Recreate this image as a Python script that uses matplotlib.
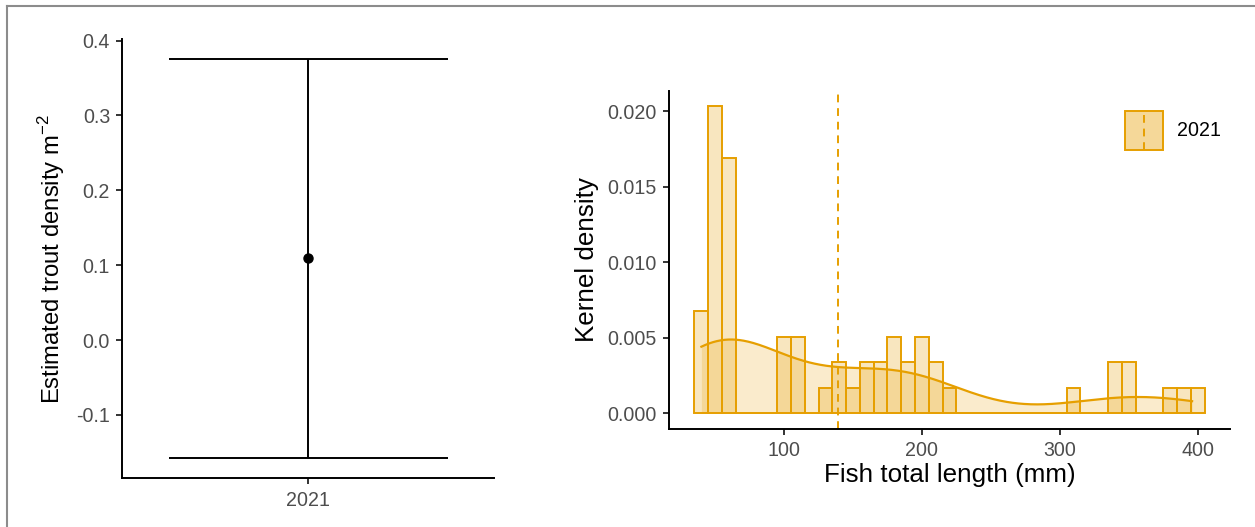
import numpy as np
import matplotlib.pyplot as plt
from matplotlib.colors import to_rgba
from matplotlib.patches import Rectangle, Patch
from matplotlib.lines import Line2D
from matplotlib.legend_handler import HandlerBase
from matplotlib.ticker import FormatStrFormatter

plt.rcParams['font.family'] = ['Liberation Sans', 'DejaVu Sans']
plt.rcParams['mathtext.fontset'] = 'custom'
plt.rcParams['mathtext.rm'] = 'Liberation Sans'
plt.rcParams['axes.unicode_minus'] = False

# Estimated trout density (with 95% interval) per survey year
years = ['2021']
density_est = [0.109]
density_lo = [-0.158]
density_hi = [0.375]

# Total length (mm) of every trout measured in 2021
lengths = [40, 41, 43, 44,
           45, 46, 47, 48, 49, 50, 50, 51, 52, 53, 54, 54,
           55, 56, 57, 58, 59, 60, 61, 62, 63, 64,
           96, 100, 103, 106, 110, 113,
           128, 136, 142, 148, 158, 163, 167, 172,
           176, 180, 184, 188, 193, 196, 200, 204, 207, 212, 218,
           309, 337, 343, 347, 353, 380, 390, 396]
length_bins = np.arange(35, 406, 10)

ORANGE = '#E69F00'
TICK_FS = 14.1
TITLE_FS = 18.7
LW = 1.4


def style_axes(ax):
    for side in ['top', 'right']:
        ax.spines[side].set_visible(False)
    for side in ['left', 'bottom']:
        ax.spines[side].set_linewidth(LW)
        ax.spines[side].set_color('black')
    ax.tick_params(length=4.3, width=LW, color='#333333', labelcolor='#4D4D4D',
                   labelsize=TICK_FS, pad=4.5)


# gaussian kernel density, bandwidth as R's bw.nrd0
def kde_nrd0(data, grid):
    data = np.asarray(data, dtype=float)
    n = len(data)
    q1, q3 = np.percentile(data, [25, 75])
    bw = 0.9 * min(np.std(data, ddof=1), (q3 - q1) / 1.34) * n ** -0.2
    z = (grid[:, None] - data[None, :]) / bw
    return np.exp(-0.5 * z ** 2).sum(axis=1) / (n * bw * np.sqrt(2 * np.pi))


class VlineKey(HandlerBase):
    # legend key: filled box with the dashed mean line through it
    def create_artists(self, legend, orig_handle, xdescent, ydescent,
                       width, height, fontsize, trans):
        box = Rectangle((-xdescent, -ydescent), width, height,
                        facecolor=orig_handle.get_facecolor(),
                        edgecolor=ORANGE, linewidth=LW, transform=trans)
        mid = -xdescent + width / 2
        vl = Line2D([mid, mid], [-ydescent, -ydescent + height], color=ORANGE,
                    lw=LW, ls=(0, (4, 3)), transform=trans)
        return [box, vl]


fig = plt.figure(figsize=(12.55, 5.27), dpi=100)

# thin grey frame along the top and left edges
fig.add_artist(Line2D([6.5 / 1255, 1], [1 - 6 / 527, 1 - 6 / 527], transform=fig.transFigure,
                      color='#8c8c8c', lw=1.5))
fig.add_artist(Line2D([6.5 / 1255, 6.5 / 1255], [0, 1 - 6 / 527], transform=fig.transFigure,
                      color='#8c8c8c', lw=1.5))

# ---- left: density estimate with interval ----
ax1 = fig.add_axes([122.3 / 1255, (527 - 478.3) / 527, (494 - 122.3) / 1255, (478.3 - 39.3) / 527])
xpos = np.arange(1, len(years) + 1)
ax1.vlines(xpos, density_lo, density_hi, color='black', lw=LW)
ax1.hlines(density_lo, xpos - 0.45, xpos + 0.45, color='black', lw=LW)
ax1.hlines(density_hi, xpos - 0.45, xpos + 0.45, color='black', lw=LW)
ax1.plot(xpos, density_est, 'o', color='black', ms=6.5)
ax1.set_xlim(0.4, len(years) + 0.6)
span = max(density_hi) - min(density_lo)
ax1.set_ylim(min(density_lo) - 0.05 * span, max(density_hi) + 0.05 * span)
ax1.set_xticks(xpos)
ax1.set_xticklabels(years)
ax1.set_yticks([-0.1, 0.0, 0.1, 0.2, 0.3, 0.4])
ax1.yaxis.set_major_formatter(FormatStrFormatter('%.1f'))
style_axes(ax1)
ax1.set_ylabel(r'Estimated trout density m$^{\mathregular{-2}}$', fontsize=17.2)
ax1.yaxis.set_label_coords(-0.1487, 0.5)

# ---- right: length distribution ----
ax2 = fig.add_axes([669 / 1255, (527 - 428.7) / 527, (1230 - 669) / 1255, (428.7 - 91) / 527])
heights, _, _ = ax2.hist(lengths, bins=length_bins, density=True,
                         facecolor=to_rgba(ORANGE, 0.25), edgecolor=ORANGE, linewidth=LW)
grid = np.linspace(min(lengths), max(lengths), 512)
dens = kde_nrd0(lengths, grid)
ax2.fill_between(grid, dens, color=to_rgba(ORANGE, 0.2), linewidth=0)
ax2.plot(grid, dens, color=ORANGE, lw=1.6)
ax2.axvline(np.mean(lengths), color=ORANGE, lw=LW, ls=(0, (4, 3)))

xr = length_bins[-1] - length_bins[0]
ax2.set_xlim(length_bins[0] - 0.05 * xr, length_bins[-1] + 0.05 * xr)
ymax = heights.max()
ax2.set_ylim(-0.05 * ymax, 1.05 * ymax)
ax2.set_xticks([100, 200, 300, 400])
ax2.set_yticks([0.0, 0.005, 0.010, 0.015, 0.020])
ax2.yaxis.set_major_formatter(FormatStrFormatter('%.3f'))
style_axes(ax2)
ax2.set_ylabel('Kernel density', fontsize=TITLE_FS)
ax2.yaxis.set_label_coords(-0.1248, 0.5)
ax2.set_xlabel('Fish total length (mm)', fontsize=TITLE_FS)
ax2.xaxis.set_label_coords(0.5, -0.1016)

key = Patch(facecolor=to_rgba(ORANGE, 0.4), edgecolor=ORANGE)
ax2.legend([key], ['2021'], handler_map={Patch: VlineKey()}, loc='upper left',
           bbox_to_anchor=((1125 - 669) / 561, (428.7 - 111) / 337.7),
           frameon=False, fontsize=TICK_FS, handlelength=1.94, handleheight=2.7,
           handletextpad=0.7, borderpad=0, borderaxespad=0)

fig.savefig('out.png', dpi=100)
